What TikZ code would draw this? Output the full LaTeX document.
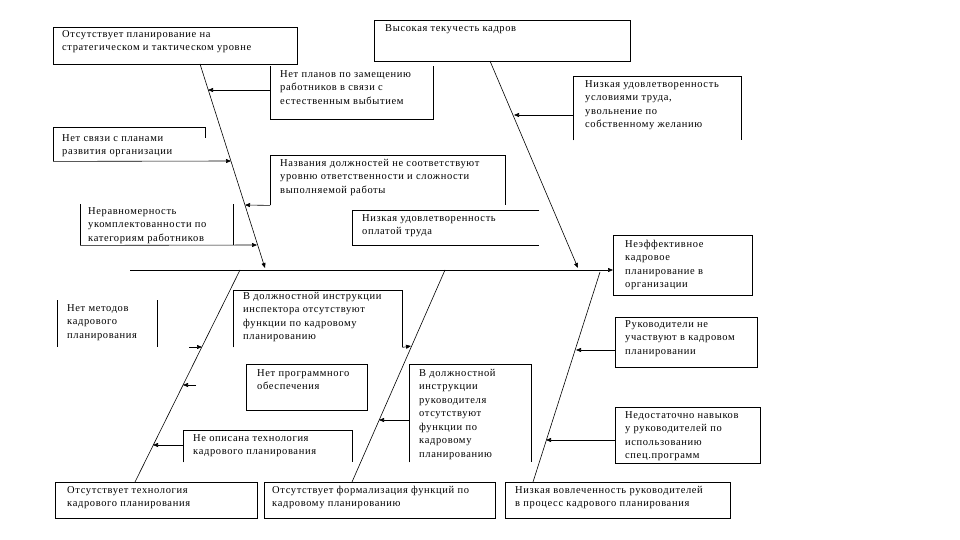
\documentclass[tikz,border=0pt]{standalone}
\usepackage{fontspec}
\setmainfont{Liberation Serif}[LetterSpace=6]
\usetikzlibrary{arrows.meta}
\begin{document}
\begin{tikzpicture}[x=1pt,y=-1pt,
  ln/.style={line width=0.6pt,black},
  arr/.style={ln,-{Triangle[length=5pt,width=4pt]}},
  boxf/.style={draw=black,line width=0.6pt,inner sep=0,anchor=north west},
  boxo/.style={inner sep=0,anchor=north west},
  txt/.style={anchor=north west,inner sep=0,align=left,font=\fontsize{10.5}{13.5}\selectfont}]
\useasboundingbox[fill=white] (0,0) rectangle (960,540);
% ---- boxes
\node[boxf,minimum width=244pt,minimum height=37pt] (b1) at (53,27) {};
\node[boxf,minimum width=256pt,minimum height=41pt] (b2) at (374,20) {};
\node[boxo,minimum width=163pt,minimum height=53pt] (b3) at (270,66) {};
\node[boxo,minimum width=168pt,minimum height=64pt] (b4) at (573,76) {};
\node[boxo,minimum width=152pt,minimum height=34pt] (b5) at (53,127) {};
\node[boxo,minimum width=235pt,minimum height=50pt] (b6) at (270,155) {};
\node[boxo,minimum width=153pt,minimum height=41pt] (b7) at (80,204) {};
\node[boxo,minimum width=187pt,minimum height=35pt] (b8) at (352,210) {};
\node[boxf,minimum width=139pt,minimum height=60pt] (b9) at (613,235) {};
\node[boxo,minimum width=100pt,minimum height=47pt] (b10) at (57,300) {};
\node[boxo,minimum width=169pt,minimum height=57pt] (b11) at (233,290) {};
\node[boxf,minimum width=142pt,minimum height=50pt] (b12) at (615,317) {};
\node[boxf,minimum width=121pt,minimum height=46pt] (b13) at (246,364) {};
\node[boxo,minimum width=122pt,minimum height=98pt] (b14) at (409,364) {};
\node[boxf,minimum width=145pt,minimum height=56pt] (b15) at (615,407) {};
\node[boxo,minimum width=169pt,minimum height=32pt] (b16) at (183,430) {};
\node[boxf,minimum width=202pt,minimum height=36pt] (b17) at (55,482) {};
\node[boxf,minimum width=231pt,minimum height=36pt] (b18) at (264,482) {};
\node[boxf,minimum width=225pt,minimum height=36pt] (b19) at (505,482) {};
% ---- partial borders
\draw[ln] (b3.north west) -- (b3.south west) -- (b3.south east) -- (b3.north east);
\draw[ln] (b4.south west) -- (b4.north west) -- (b4.north east) -- (b4.south east);
\draw[ln] (b5.south west) -- (b5.north west) -- (b5.north east) -- ([yshift=-11pt]b5.north east);
\draw[ln] (b6.south west) -- (b6.north west) -- (b6.north east) -- (b6.south east);
\draw[ln] (b7.north west) -- (b7.south west);
\draw[ln] (b7.north east) -- (b7.south east);
\draw[ln] (b8.north east) -- (b8.north west) -- (b8.south west) -- (b8.south east);
\draw[ln] (b10.north west) -- (b10.south west);
\draw[ln] (b10.north east) -- (b10.south east);
\draw[ln] (b11.south west) -- (b11.north west) -- (b11.north east) -- (b11.south east);
\draw[ln] (b14.south west) -- (b14.north west) -- (b14.north east) -- (b14.south east);
\draw[ln] (b16.south west) -- (b16.north west) -- (b16.north east) -- (b16.south east);
% ---- texts
\node[txt] (t1) at (62,30) {Отсутствует планирование на\\стратегическом и тактическом уровне};
\node[txt] (t2) at (385,24) {Высокая текучесть кадров};
\node[txt] (t3) at (280,70) {Нет планов по замещению\\работников в связи с\\естественным выбытием};
\node[txt] (t4) at (585,80) {Низкая удовлетворенность\\условиями труда,\\увольнение по\\собственному желанию};
\node[txt] (t5) at (62,134) {Нет связи с планами\\развития организации};
\node[txt] (t6) at (280,159) {Названия должностей не соответствуют\\уровню ответственности и сложности\\выполняемой работы};
\node[txt] (t7) at (88,207) {Неравномерность\\укомплектованности по\\категориям работников};
\node[txt] (t8) at (362,214) {Низкая удовлетворенность\\оплатой труда};
\node[txt] (t9) at (625,240) {Неэффективное\\кадровое\\планирование в\\организации};
\node[txt] (t10) at (67,304) {Нет методов\\кадрового\\планирования};
\node[txt] (t11) at (243,292) {В должностной инструкции\\инспектора отсутствуют\\функции по кадровому\\планированию};
\node[txt] (t12) at (625,320) {Руководители не\\участвуют в кадровом\\планировании};
\node[txt] (t13) at (257,369) {Нет программного\\обеспечения};
\node[txt] (t14) at (419,369) {В должностной\\инструкции\\руководителя\\отсутствуют\\функции по\\кадровому\\планированию};
\node[txt] (t15) at (625,411) {Недостаточно навыков\\у руководителей по\\использованию\\спец.программ};
\node[txt] (t16) at (193,434) {Не описана технология\\кадрового планирования};
\node[txt] (t17) at (67,486) {Отсутствует технология\\кадрового планирования};
\node[txt] (t18) at (272,486) {Отсутствует формализация функций по\\кадровому планированию};
\node[txt] (t19) at (515,486) {Низкая вовлеченность руководителей\\в процесс кадрового планирования};
% ---- spine and bones
\coordinate (s0) at (130,270);
\draw[arr] (s0) -- (s0 -| b9.west);
\coordinate (ul0) at (200,64);
\coordinate (ul1) at (265,268);
\draw[arr] (ul0) -- (ul1);
\coordinate (ur0) at (490,61);
\coordinate (ur1) at (578,268);
\draw[arr] (ur0) -- (ur1);
\coordinate (ll0) at (240,270);
\coordinate (ll1) at (135,482);
\draw[ln] (ll0) -- (ll1);
\coordinate (lm0) at (445,270);
\coordinate (lm1) at (352,482);
\draw[ln] (lm0) -- (lm1);
\coordinate (lr0) at (600,272);
\coordinate (lr1) at (533,482);
\draw[ln] (lr0) -- (lr1);
% ---- sub-cause connectors
\coordinate (p3) at (208,90);
\draw[arr] (b3.west |- p3) -- (p3);
\coordinate (p4) at (514,115);
\draw[arr] (b4.west |- p4) -- (p4);
\coordinate (p5) at (231,161);
\draw[arr] (b5.south west) -- (p5);
\coordinate (p6) at (245,205);
\draw[arr] (b6.south west) -- (p6);
\coordinate (p7) at (257,245);
\draw[arr] (b7.south west) -- (p7);
\coordinate (p10) at (202,347);
\coordinate (q10) at (189,347);
\draw[arr] (q10) -- (p10);
\coordinate (p11) at (411,346);
\draw[arr] (b11.south east) -- (p11);
\coordinate (p12) at (576,350);
\draw[arr] (b12.west |- p12) -- (p12);
\coordinate (p13) at (183,385);
\coordinate (q13) at (196,385);
\draw[arr] (q13) -- (p13);
\coordinate (p14) at (379,420);
\draw[arr] (b14.west |- p14) -- (p14);
\coordinate (p15) at (546,440);
\draw[arr] (b15.west |- p15) -- (p15);
\coordinate (p16) at (153,445);
\draw[arr] (b16.west |- p16) -- (p16);
\end{tikzpicture}
\end{document}
